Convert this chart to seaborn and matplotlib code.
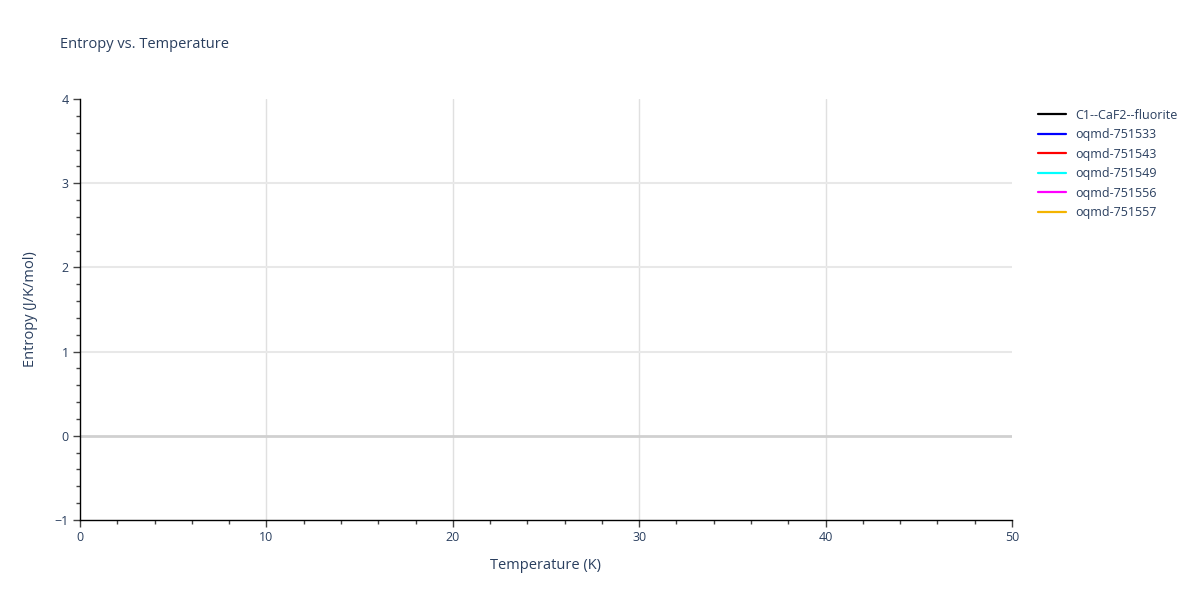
import matplotlib
matplotlib.use("Agg")
import matplotlib.pyplot as plt
import seaborn as sns
import pandas as pd
from matplotlib.ticker import MultipleLocator

# series names and colours from the legend; the traces carry no visible points
series_names = ["C1--CaF2--fluorite", "oqmd-751533", "oqmd-751543",
                "oqmd-751549", "oqmd-751556", "oqmd-751557"]
series_colors = ["black", "blue", "red", "cyan", "magenta", "#f4b400"]
temperature = []
entropy = []

x_ticks = [0, 10, 20, 30, 40, 50]
y_ticks = [-1, 0, 1, 2, 3, 4]

sns.set_style("white")
plt.rcParams['font.family'] = ['Open Sans', 'DejaVu Sans']
txt = "#2a3f5f"

fig = plt.figure(figsize=(12, 6), dpi=100)
ax = fig.add_axes([80 / 1200, 80 / 600, (1012 - 80) / 1200, (520 - 99) / 600])

for name, col in zip(series_names, series_colors):
    df = pd.DataFrame({"T": pd.Series(temperature, dtype=float),
                       "S": pd.Series(entropy, dtype=float)})
    ax.plot(df["T"], df["S"], color=col, lw=1.6, label=name)

ax.set_xlim(0, 50)
ax.set_ylim(-1, 4)
ax.set_xticks(x_ticks)
ax.set_yticks(y_ticks)
ax.set_yticklabels(["\u22121", "0", "1", "2", "3", "4"])
ax.xaxis.set_minor_locator(MultipleLocator(2))
ax.yaxis.set_minor_locator(MultipleLocator(0.2))
ax.tick_params(axis="both", which="major", direction="out", length=5, width=1,
               color="#444444", labelcolor=txt, labelsize=9, bottom=True, left=True,
               pad=3)
ax.tick_params(axis="both", which="minor", direction="out", length=3, width=1,
               color="#444444", bottom=True, left=True)
for v in x_ticks[1:-1]:
    ax.axvline(v, color="#e0e0e0", lw=1, zorder=0)
for v in y_ticks[2:-1]:
    ax.axhline(v, color="#e8e8e8", lw=1.5, zorder=0)
ax.axhline(0, color="#d0d0d0", lw=2, zorder=0)

for s in ["top", "right"]:
    ax.spines[s].set_visible(False)
for s in ["left", "bottom"]:
    ax.spines[s].set_color("black")
    ax.spines[s].set_linewidth(1)

ax.set_xlabel("Temperature (K)", color=txt, fontsize=10.5, labelpad=10)
ax.set_ylabel("Entropy (J/K/mol)", color=txt, fontsize=10.5, labelpad=12)
fig.text(60 / 1200, 1 - 45 / 600, "Entropy vs. Temperature", color=txt,
         fontsize=10.5, va="center", ha="left")

leg = ax.legend(loc="upper left", bbox_to_anchor=(1.02, 0.995), frameon=False,
                fontsize=9, handlelength=2.2, labelspacing=0.52, borderaxespad=0.2)
for t in leg.get_texts():
    t.set_color(txt)

fig.savefig("out.png", dpi=100)
